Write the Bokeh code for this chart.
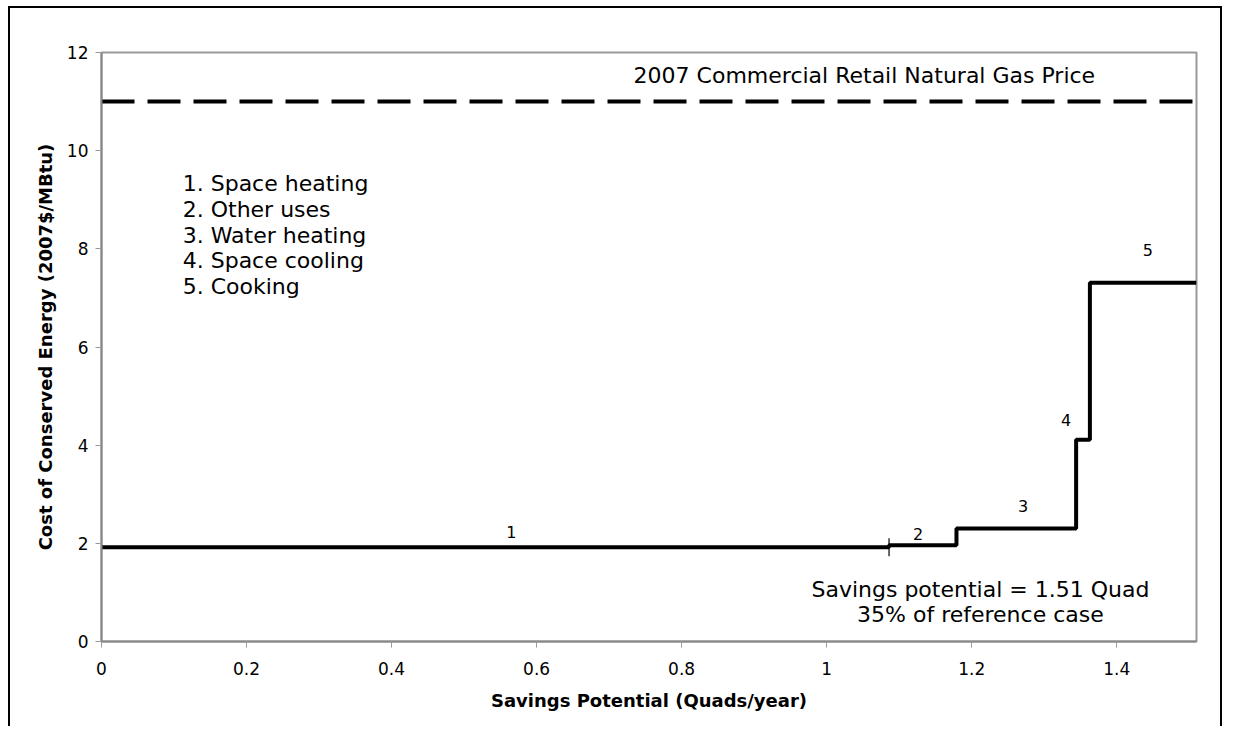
import math
from bokeh.plotting import figure
from bokeh.models import FixedTicker
from bokeh.core.properties import value
from bokeh.embed import file_html
from bokeh.resources import INLINE

# ---- data ----
step_x = [0, 1.086, 1.179, 1.344, 1.363, 1.51]
step_y = [1.92, 1.96, 2.30, 4.11, 7.31, 7.31]
gas_price = 11.0
tick_mark_x = [1.086]
tick_mark_y = [1.92]

seg_labels = ["1", "2", "3", "4", "5"]
seg_label_x = [0.565, 1.126, 1.271, 1.330, 1.443]
seg_label_y = [2.24, 2.20, 2.77, 4.52, 7.97]

legend_lines = ["1. Space heating", "2. Other uses", "3. Water heating",
                "4. Space cooling", "5. Cooking"]
legend_x = [0.112] * 5
legend_y = [9.33, 8.80, 8.27, 7.76, 7.23]

price_text = ["2007 Commercial Retail Natural Gas Price"]
price_text_x = [1.052]
price_text_y = [11.53]

summary_lines = ["Savings potential = 1.51 Quad", "35% of reference case"]
summary_x = [1.212, 1.212]
summary_y = [1.06, 0.55]

x_ticks = [0, 0.2, 0.4, 0.6, 0.8, 1.0, 1.2, 1.4]
x_tick_labels = ["0", "0.2", "0.4", "0.6", "0.8", "1", "1.2", "1.4"]
y_ticks = [0, 2, 4, 6, 8, 10, 12]
y_tick_labels = ["0", "2", "4", "6", "8", "10", "12"]

FONT = "DejaVu Sans"

p = figure(width=1214, height=720, x_range=(0, 1.51), y_range=(0, 12),
           output_backend="svg", toolbar_location=None,
           min_border_left=91, min_border_right=28, min_border_top=44,
           min_border_bottom=87)
p.styles = {"border-left": "2px solid black", "border-top": "2px solid black",
            "border-right": "2px solid black",
            "margin-left": "8px", "margin-top": "6px"}

p.xgrid.visible = False
p.ygrid.visible = False
p.outline_line_color = "#999999"
p.outline_line_width = 2

for ax in (p.xaxis[0], p.yaxis[0]):
    ax.axis_line_color = "#888888"
    ax.axis_line_width = 2
    ax.major_tick_line_color = "#999999"
    ax.major_tick_out = 6
    ax.major_tick_in = 0
    ax.minor_tick_line_color = None
    ax.major_label_text_font = FONT
    ax.major_label_text_font_size = "17px"
    ax.major_label_text_color = "black"
    ax.axis_label_text_font = FONT
    ax.axis_label_text_font_style = "bold"
    ax.axis_label_text_font_size = "18px"
    ax.axis_label_text_color = "black"

p.xaxis.ticker = FixedTicker(ticks=x_ticks)
p.xaxis.major_label_overrides = {t: l for t, l in zip(x_ticks, x_tick_labels)}
p.yaxis.ticker = FixedTicker(ticks=y_ticks)
p.yaxis.major_label_overrides = {t: l for t, l in zip(y_ticks, y_tick_labels)}
p.xaxis.axis_label = "Savings Potential (Quads/year)"
p.yaxis.axis_label = "Cost of Conserved Energy (2007$/MBtu)"
p.xaxis.major_label_standoff = 14
p.xaxis.axis_label_standoff = 12
p.yaxis.major_label_standoff = 7
p.yaxis.axis_label_standoff = 8

# gas price dashed line
p.line(x=[0, 1.51], y=[gas_price, gas_price], line_color="black",
       line_width=4, line_dash="33 13")

# supply curve
p.step(x=step_x, y=step_y, mode="after", line_color="black", line_width=4)
p.scatter(x=tick_mark_x, y=tick_mark_y, marker="dash", angle=math.pi / 2,
          size=18, line_color="black", line_width=1.2)

p.text(x=seg_label_x, y=seg_label_y, text=seg_labels, text_font=value(FONT),
       text_font_size="16px", text_align="center", text_baseline="middle",
       text_color="black")
p.text(x=legend_x, y=legend_y, text=legend_lines, text_font=value(FONT),
       text_font_size="22px", text_align="left", text_baseline="middle",
       text_color="black")
p.text(x=price_text_x, y=price_text_y, text=price_text, text_font=value(FONT),
       text_font_size="22px", text_align="center", text_baseline="middle",
       text_color="black")
p.text(x=summary_x, y=summary_y, text=summary_lines, text_font=value(FONT),
       text_font_size="22px", text_align="center", text_baseline="middle",
       text_color="black")

open("out.html", "w").write(file_html(p, INLINE))
